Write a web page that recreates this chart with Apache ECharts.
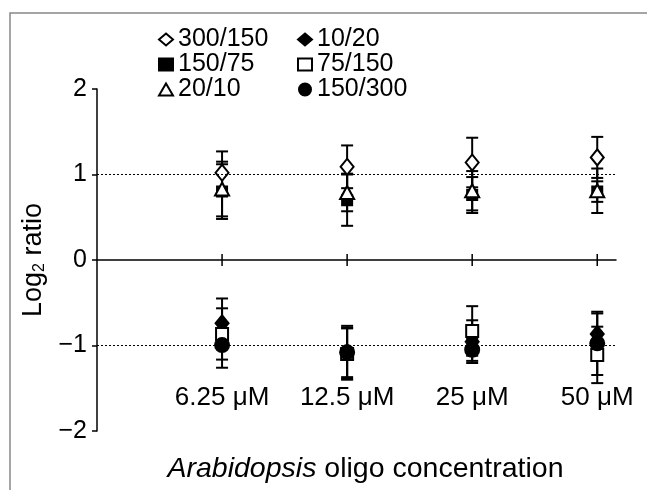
<!DOCTYPE html>
<html><head><meta charset="utf-8">
<script src="https://cdn.jsdelivr.net/npm/echarts@6/dist/echarts.min.js"></script>
<style>html,body{margin:0;padding:0;background:#fff}#c{width:647px;height:490px}</style>
</head><body><div id="c"></div>
<script>
// Categories (x positions 1..4)
const categories = ['6.25 \u03bcM', '12.5 \u03bcM', '25 \u03bcM', '50 \u03bcM'];
const yTicks = [-2, -1, 0, 1, 2];

// Series means and errors (Log2 ratio)
const s300_150 = [1.02, 1.09, 1.14, 1.20];
const e300_150 = [0.25, 0.25, 0.29, 0.24];
const s150_75  = [0.80, 0.70, 0.76, 0.80];
const e150_75  = [0.32, 0.30, 0.21, 0.12];
const s20_10   = [0.83, 0.79, 0.81, 0.81];
const e20_10   = [0.32, 0.22, 0.23, 0.26];
const s10_20   = [-0.74, -1.08, -0.955, -0.865];
const e10_20   = [0.29, 0.29, 0.25, 0.24];
const s75_150  = [-0.865, -1.10, -0.83, -1.11];
const e75_150  = [0.30, 0.30, 0.29, 0.33];
const s150_300 = [-0.995, -1.08, -1.05, -0.975];
const e150_300 = [0.265, 0.31, 0.13, 0.37];

const FONT = 'Liberation Sans, Arial, Helvetica, sans-serif';
const FS = 25;
const chart = echarts.init(document.getElementById('c'), null, {renderer: 'canvas'});

function pts(vals) { return vals.map((v, i) => [i + 1, v]); }
function errs(vals, e) { return vals.map((v, i) => [i + 1, v - e[i], v + e[i]]); }

const defs = [
  {name: '300/150', vals: s300_150, err: e300_150, symbol: 'diamond', size: [13, 16], fill: '#fff'},
  {name: '150/75',  vals: s150_75,  err: e150_75,  symbol: 'rect',    size: 10, fill: '#000'},
  {name: '20/10',   vals: s20_10,   err: e20_10,   symbol: 'triangle',size: [14, 13], fill: '#fff'},
  {name: '10/20',   vals: s10_20,   err: e10_20,   symbol: 'diamond', size: [13, 16], fill: '#000'},
  {name: '75/150',  vals: s75_150,  err: e75_150,  symbol: 'rect',    size: 12, fill: '#fff'},
  {name: '150/300', vals: s150_300, err: e150_300, symbol: 'circle',  size: 14, fill: '#000'}
];

const series = [];
defs.forEach(d => {
  series.push({
    type: 'custom', z: 2, silent: true,
    renderItem: function (params, api) {
      const x = api.value(0), lo = api.value(1), hi = api.value(2);
      const a = api.coord([x, lo]), b = api.coord([x, hi]);
      const w = 6, st = {stroke: '#000', lineWidth: 2};
      return {type: 'group', children: [
        {type: 'line', shape: {x1: a[0], y1: a[1], x2: b[0], y2: b[1]}, style: st},
        {type: 'line', shape: {x1: a[0]-w, y1: a[1], x2: a[0]+w, y2: a[1]}, style: st},
        {type: 'line', shape: {x1: b[0]-w, y1: b[1], x2: b[0]+w, y2: b[1]}, style: st}
      ]};
    },
    data: errs(d.vals, d.err)
  });
});
defs.forEach(d => {
  series.push({
    type: 'scatter', name: d.name, z: 3,
    symbol: d.symbol, symbolSize: d.size,
    itemStyle: {color: d.fill, borderColor: '#000', borderWidth: 2, opacity: 1},
    data: pts(d.vals)
  });
});
// crossing ticks on zero line
series.push({
  type: 'custom', z: 2, silent: true,
  renderItem: function (params, api) {
    const p = api.coord([api.value(0), 0]);
    return {type: 'line', shape: {x1: p[0], y1: p[1]-6, x2: p[0], y2: p[1]+6}, style: {stroke: '#000', lineWidth: 1.5}};
  },
  data: categories.map((c, i) => [i + 1])
});
// reference dotted lines at +-1
series.push({
  type: 'line', data: [], silent: true,
  markLine: {symbol: 'none', silent: true, label: {show: false},
    lineStyle: {color: '#000', type: [2, 2], width: 1},
    data: [{yAxis: 1}, {yAxis: -1}]}
});

const legendText = {fontFamily: FONT, fontSize: FS, color: '#000', lineHeight: 24};
chart.setOption({
  animation: false,
  backgroundColor: '#fff',
  textStyle: {fontFamily: FONT},
  graphic: [{type: 'rect', shape: {x: 10, y: 13, width: 700, height: 600}, style: {fill: 'none', stroke: '#888', lineWidth: 1.5}, silent: true}],
  grid: {left: 97, right: 31, top: 89, bottom: 59, containLabel: false, outerBoundsMode: 'none'},
  legend: [
    {orient: 'vertical', left: 158, top: 27, itemGap: 0, itemWidth: 14, itemHeight: 12, padding: 0,
      data: ['300/150', '150/75', '20/10'], textStyle: legendText, selectedMode: false},
    {orient: 'vertical', left: 297, top: 27, itemGap: 0, itemWidth: 14, itemHeight: 12, padding: 0,
      data: ['10/20', '75/150', '150/300'], textStyle: legendText, selectedMode: false}
  ],
  xAxis: [
    {type: 'value', min: 0, max: 4.15, interval: 1,
      axisLine: {onZero: true, lineStyle: {color: '#000', width: 1.5}},
      axisTick: {show: false}, splitLine: {show: false}, axisLabel: {show: false}},
    {type: 'value', min: 0, max: 4.15, position: 'bottom',
      axisLine: {show: false, onZero: false}, axisTick: {show: false}, splitLine: {show: false},
      axisLabel: {show: false},
      name: '{i|Arabidopsis} oligo concentration', nameLocation: 'middle', nameGap: 24,
      nameTextStyle: {fontSize: 28.5, color: '#000', fontFamily: FONT, padding: [0, 0, 0, 18],
        rich: {i: {fontStyle: 'italic', fontSize: 28.5, color: '#000', fontFamily: FONT}}}},
    {type: 'value', min: 0, max: 4.15, position: 'bottom', offset: -46,
      axisLine: {show: false, onZero: false}, axisTick: {show: false}, splitLine: {show: false},
      axisLabel: {show: true, customValues: [1, 2, 3, 4], margin: 0, hideOverlap: false,
        fontSize: 26, color: '#000', fontFamily: FONT,
        formatter: v => categories[Math.round(v) - 1] || ''}}
  ],
  yAxis: {type: 'value', min: -2, max: 2, interval: 1,
    axisLine: {show: true, lineStyle: {color: '#000', width: 1.5}},
    axisTick: {show: true, length: 5, lineStyle: {color: '#000', width: 1.5}},
    splitLine: {show: false},
    axisLabel: {margin: 10, fontSize: FS, color: '#000', fontFamily: FONT,
      formatter: v => String(v).replace('-', '\u2212')},
    name: 'Log{sub|2} ratio', nameLocation: 'middle', nameGap: 33, nameRotate: 90,
    nameTextStyle: {fontSize: 27, color: '#000', fontFamily: FONT,
      rich: {sub: {fontSize: 16, verticalAlign: 'bottom', padding: [12, 0, 0, 0], color: '#000', fontFamily: FONT}}}
  },
  series: series
});
</script></body></html>
